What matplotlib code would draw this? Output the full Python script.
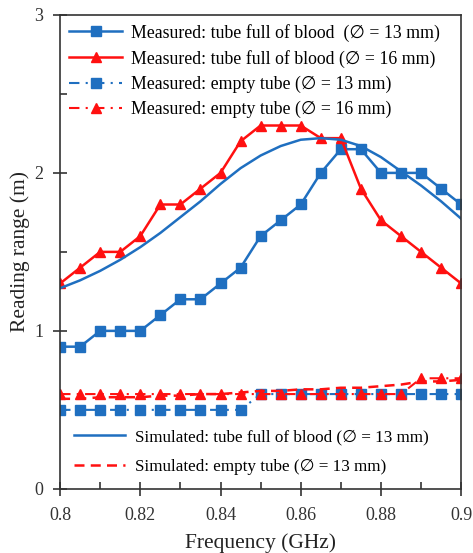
import matplotlib
matplotlib.use('Agg')
import matplotlib.pyplot as plt
import numpy as np
from matplotlib.ticker import MultipleLocator

# Data
freq = [0.800, 0.805, 0.810, 0.815, 0.820, 0.825, 0.830, 0.835, 0.840, 0.845,
        0.850, 0.855, 0.860, 0.865, 0.870, 0.875, 0.880, 0.885, 0.890, 0.895, 0.900]
meas_blood_13 = [0.9, 0.9, 1.0, 1.0, 1.0, 1.1, 1.2, 1.2, 1.3, 1.4,
                 1.6, 1.7, 1.8, 2.0, 2.15, 2.15, 2.0, 2.0, 2.0, 1.9, 1.8]
meas_blood_16 = [1.3, 1.4, 1.5, 1.5, 1.6, 1.8, 1.8, 1.9, 2.0, 2.2,
                 2.3, 2.3, 2.3, 2.22, 2.22, 1.9, 1.7, 1.6, 1.5, 1.4, 1.3]
meas_empty_13 = [0.5, 0.5, 0.5, 0.5, 0.5, 0.5, 0.5, 0.5, 0.5, 0.5,
                 0.6, 0.6, 0.6, 0.6, 0.6, 0.6, 0.6, 0.6, 0.6, 0.6, 0.6]
meas_empty_16 = [0.6, 0.6, 0.6, 0.6, 0.6, 0.6, 0.6, 0.6, 0.6, 0.6,
                 0.6, 0.6, 0.6, 0.6, 0.6, 0.6, 0.6, 0.6, 0.7, 0.7, 0.7]
sim_blood_13 = [1.27, 1.32, 1.38, 1.45, 1.53, 1.62, 1.72, 1.82, 1.93, 2.03,
                2.11, 2.17, 2.21, 2.22, 2.21, 2.17, 2.10, 2.01, 1.92, 1.82, 1.71]
sim_empty_13 = [0.57, 0.57, 0.58, 0.58, 0.58, 0.59, 0.59, 0.60, 0.60, 0.61,
                0.62, 0.62, 0.63, 0.63, 0.64, 0.64, 0.65, 0.66, 0.68, 0.68, 0.69]
xtick_vals = [0.8, 0.82, 0.84, 0.86, 0.88, 0.9]
xtick_labels = ['0.8', '0.82', '0.84', '0.86', '0.88', '0.9']

BLUE = '#1f6fc0'
RED = '#ff1010'
FONT = ['Liberation Serif', 'DejaVu Sans']

plt.rcParams['font.family'] = FONT
plt.rcParams['font.size'] = 12

fig = plt.figure(figsize=(4.73, 5.53), dpi=100)
ax = fig.add_axes([0.127, 0.116, 0.848, 0.857])

l1, = ax.plot(freq, meas_blood_13, color=BLUE, lw=1.8, marker='s', ms=7.5,
              label='Measured: tube full of blood  (\u2205 = 13 mm)')
l2, = ax.plot(freq, meas_blood_16, color=RED, lw=1.8, marker='^', ms=7.5,
              label='Measured: tube full of blood (\u2205 = 16 mm)')
l3, = ax.plot(freq, meas_empty_13, color=BLUE, lw=1.5, ls=(0, (5, 3, 1, 3)),
              marker='s', ms=7.5, label='Measured: empty tube (\u2205 = 13 mm)')
l4, = ax.plot(freq, meas_empty_16, color=RED, lw=1.5, ls=(0, (5, 3, 1, 3)),
              marker='^', ms=7.5, label='Measured: empty tube (\u2205 = 16 mm)')
s1, = ax.plot(freq, sim_blood_13, color=BLUE, lw=1.8,
              label='Simulated: tube full of blood (\u2205 = 13 mm)')
s2, = ax.plot(freq, sim_empty_13, color=RED, lw=1.8, ls=(0, (4, 2.5)),
              label='Simulated: empty tube (\u2205 = 13 mm)')

ax.set_xlim(0.8, 0.9)
ax.set_ylim(0, 3)
ax.xaxis.set_minor_locator(MultipleLocator(0.01))
ax.yaxis.set_major_locator(MultipleLocator(1))
ax.yaxis.set_minor_locator(MultipleLocator(0.5))
ax.set_xticks(xtick_vals)
ax.set_xticklabels(xtick_labels)
ax.tick_params(which='major', direction='inout', length=10, width=1.2,
               labelsize=13, colors='#333333', labelcolor='#333333')
ax.tick_params(axis='x', which='major', pad=8)
ax.tick_params(axis='y', which='major', pad=7)
ax.tick_params(which='minor', direction='in', length=5, width=1.2, colors='#333333')
for sp in ax.spines.values():
    sp.set_linewidth(1.2)
    sp.set_color('#333333')

ax.set_xlabel('Frequency (GHz)', fontsize=15.5, color='#222222', labelpad=7)
ax.set_ylabel('Reading range (m)', fontsize=15.5, color='#222222', labelpad=3)

leg1 = ax.legend(handles=[l1, l2, l3, l4], loc='upper left', frameon=False,
                 fontsize=12.8, handlelength=3, handletextpad=0.5,
                 borderaxespad=0.1, labelspacing=0.45, borderpad=0.4,
                 bbox_to_anchor=(0.0, 1.0))
ax.add_artist(leg1)
ax.legend(handles=[s1, s2], loc='lower left', frameon=False,
          fontsize=12.3, handlelength=3, handletextpad=0.6,
          bbox_to_anchor=(0.0, 0.0), labelspacing=0.8, borderpad=0.3)

fig.savefig('out.png', dpi=100)
